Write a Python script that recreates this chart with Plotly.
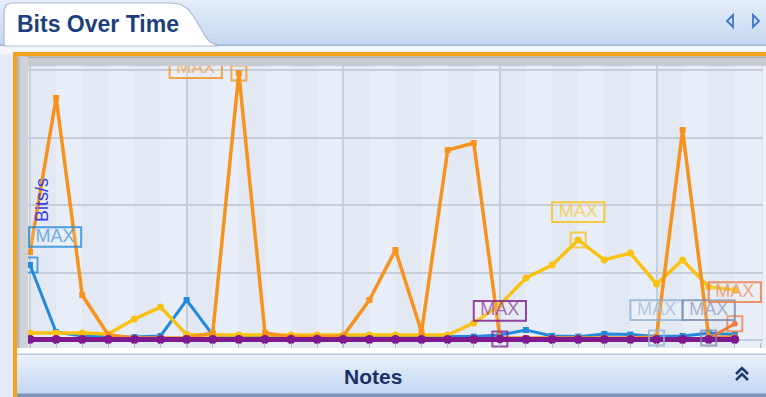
import plotly.graph_objects as go

# ---- data -------------------------------------------------------------
times = ["14:00", "14:05", "14:10", "14:15", "14:20", "14:25", "14:30",
         "14:35", "14:40", "14:45", "14:50", "14:55", "15:00", "15:05",
         "15:10", "15:15", "15:20", "15:25", "15:30", "15:35", "15:40",
         "15:45", "15:50", "15:55", "16:00", "16:05", "16:10", "16:15"]

# throughput per interface (kbit/s)
if_orange = [65.2, 179.3, 33.3, 3.7, 1.5, 1.5, 1.5, 5.2, 197.8, 5.2, 2.2, 2.2,
             3.0, 29.6, 66.7, 5.9, 140.7, 145.9, 1.5, 1.5, 1.5, 1.5, 1.5, 1.5,
             2.2, 155.6, 2.2, 2.0]
if_yellow = [5.2, 5.2, 5.2, 4.4, 15.6, 24.4, 4.0, 3.7, 3.7, 3.7, 3.7, 3.7,
             3.7, 3.7, 3.7, 3.7, 3.7, 12.6, 26.0, 45.9, 55.6, 74.1, 59.3, 64.4,
             41.5, 59.3, 39.3, 37.0]
if_blue = [55.6, 5.9, 3.0, 2.2, 2.2, 3.0, 29.6, 3.7, 2.5, 2.5, 2.5, 2.5,
           2.5, 2.5, 2.5, 2.5, 2.5, 2.5, 3.7, 7.4, 3.0, 2.5, 4.5, 4.0,
           2.5, 3.0, 5.0, 4.0]
if_steel = [0.5, 0.5, 0.5, 0.5, 0.5, 0.5, 0.5, 0.5, 0.5, 0.5, 0.5, 0.5,
            0.5, 0.5, 0.5, 0.5, 0.5, 0.5, 0.5, 0.5, 0.5, 0.5, 0.8, 0.8,
            1.5, 0.8, 0.8, 0.8]
if_slate = [0.3, 0.3, 0.3, 0.3, 0.3, 0.3, 0.3, 0.3, 0.3, 0.3, 0.3, 0.3,
            0.3, 0.3, 0.3, 0.3, 0.3, 0.3, 0.3, 0.3, 0.3, 0.3, 0.3, 0.3,
            0.6, 0.6, 1.5, 1.0]
if_red = [0.2, 0.2, 0.2, 0.2, 0.2, 0.2, 0.2, 0.2, 0.2, 0.2, 0.2, 0.2,
          0.2, 0.2, 0.2, 0.2, 0.2, 0.2, 0.2, 0.2, 0.2, 0.2, 0.2, 0.2,
          0.2, 0.2, 1.0, 12.0]
if_purple = [0.4, 0.4, 0.4, 0.4, 0.4, 0.4, 0.4, 0.4, 0.4, 0.4, 0.4, 0.4,
             0.4, 0.4, 0.4, 0.4, 0.4, 0.4, 0.8, 0.4, 0.4, 0.4, 0.4, 0.4,
             0.4, 0.4, 0.4, 0.4]

series = [
    # name, values, colour, line width, marker symbol, marker size, MAX label dx, dy
    ("eth0", if_blue, "#2389dc", 3, "square", 6, 0.96, 20.7),
    ("eth1", if_yellow, "#f9c112", 3.5, "circle", 7, 0.0, 20.7),
    ("eth2", if_orange, "#f7921c", 3.5, "square", 6, -1.65, 3.6),
    ("eth3", if_steel, "#8fb1d6", 3, "circle", 6, 0.0, 20.7),
    ("eth4", if_slate, "#7889ad", 3, "circle", 6, 0.0, 20.7),
    ("eth5", if_red, "#ef7a43", 3, "circle", 6, 0.0, 23.5),
    ("eth6", if_purple, "#7e1a8e", 5, "circle", 9, 0.0, 20.7),
]

# ---- geometry ---------------------------------------------------------
W, H = 766, 397
L, R, T, B = 28, 763, 66, 348
XMIN, XMAX = -0.077, 28.08
YMIN, YMAX = -5.93, 203.0


def px(x):
    return (x - L) / (R - L)


def py(y):
    return (B - y) / (B - T)


def mix(c0, c1, t):
    a = [int(c0[i:i + 2], 16) for i in (1, 3, 5)]
    b = [int(c1[i:i + 2], 16) for i in (1, 3, 5)]
    return "#%02x%02x%02x" % tuple(round(a[k] + (b[k] - a[k]) * t) for k in range(3))


shapes = []


def rect(x0, y0, x1, y1, fill, line=None, lw=0, layer="below"):
    shapes.append(dict(type="rect", xref="paper", yref="paper",
                       x0=px(x0), x1=px(x1), y0=py(y1), y1=py(y0),
                       fillcolor=fill, layer=layer,
                       line=dict(color=line or fill, width=lw)))


def vgrad(x0, y0, x1, y1, c0, c1, n=12, layer="below"):
    step = (y1 - y0) / n
    for k in range(n):
        rect(x0, y0 + k * step, x1, y0 + (k + 1) * step + 0.6,
             mix(c0, c1, k / (n - 1)), layer=layer)


def path(pts, color, width, fill=None, closed=False, layer="above"):
    d = "M " + " L ".join("%.5f,%.5f" % (px(x), py(y)) for x, y in pts)
    if closed:
        d += " Z"
    shapes.append(dict(type="path", xref="paper", yref="paper", path=d,
                       line=dict(color=color, width=width),
                       fillcolor=fill or "rgba(0,0,0,0)", layer=layer))


# tab strip
vgrad(0, 0, W, 45, "#e4edf9", "#c5d7f0", n=14)
rect(0, 44.5, W, 46, "#9fb4d4")
rect(0, 46, W, 54, "#f3f6fb")
# the open tab
tab = [(4, 46), (4, 10), (6, 5), (11, 3), (170, 3), (180, 4), (188, 9),
       (194, 17), (200, 27), (205, 36), (210, 42), (218, 46)]
path(tab, "#a8bcd8", 1.2, fill="#ffffff", closed=True, layer="below")
# left side panel
rect(0, 54, 13, H, "#e4ecf8")
# orange frame
rect(13, 52, W, 56.5, "#f2a21d")
rect(13, 52, 17, H, "#f2a21d")
# grey inner frame
rect(17, 56.5, W, T, "#c8ccd2")
rect(17, 56.5, W, 58, "#a9adb4")
rect(17, 56.5, L, B, "#cfd2d7")
rect(17, 56.5, 19.5, B, "#b4b8be")
rect(R, T, W, B, "#eef2f8")
# notes bar
rect(17, B, W, 354, "#ffffff")
vgrad(17, 354, W, 394, "#eaf1fb", "#c4d7f1", n=14)
rect(17, 353.5, W, 355, "#b9cbe3")
rect(17, 393.5, W, H, "#7e94ba")

# navigation arrows
path([(733, 15), (727, 21), (733, 27), (733, 15)], "#3d78c9", 1.8, closed=True)
path([(753, 15), (759, 21), (753, 27), (753, 15)], "#3d78c9", 1.8, closed=True)
# collapse chevrons
path([(736, 374), (742, 368), (748, 374)], "#1f3a6e", 2.6)
path([(736, 380), (742, 374), (748, 380)], "#1f3a6e", 2.6)

# alternating column bands inside the plot
for i in range(0, len(times) + 1, 2):
    shapes.append(dict(type="rect", xref="x", yref="y", x0=i, x1=i + 1,
                       y0=YMIN, y1=YMAX, fillcolor="#e2e9f3", layer="below",
                       line=dict(width=0)))

# ---- traces -----------------------------------------------------------
fig = go.Figure()
xs = list(range(len(times)))

for name, vals, col, lw, sym, ms, dx, dy in series:
    fig.add_trace(go.Scatter(x=xs, y=vals, name=name, mode="lines+markers",
                             line=dict(color=col, width=lw),
                             marker=dict(color=col, size=ms, symbol=sym),
                             hovertext=times, showlegend=False))

# MAX markers and labels
for name, vals, col, lw, sym, ms, dx, dy in series:
    imax = max(range(len(vals)), key=lambda k: vals[k])
    vmax = vals[imax]
    fig.add_trace(go.Scatter(x=[imax], y=[vmax], mode="markers",
                             marker=dict(symbol="square-open", size=15,
                                         color=col, line=dict(width=2, color=col)),
                             opacity=0.75, showlegend=False, hoverinfo="skip"))
    lx, ly = imax + dx, vmax + dy
    fig.add_trace(go.Scatter(x=[lx], y=[ly], mode="text", text=["MAX"],
                             textposition="middle center",
                             textfont=dict(family="Liberation Sans", size=18, color=col),
                             opacity=0.75, showlegend=False, hoverinfo="skip"))
    shapes.append(dict(type="rect", xref="x", yref="y",
                       x0=lx - 1.0, x1=lx + 1.0, y0=ly - 7.3, y1=ly + 7.3,
                       fillcolor="rgba(255,255,255,0.18)", opacity=0.8,
                       line=dict(color=col, width=2), layer="above"))

annotations = [
    dict(text="<b>Bits Over Time</b>", xref="paper", yref="paper",
         x=px(15), y=py(24), xanchor="left", yanchor="middle", showarrow=False,
         font=dict(family="Liberation Sans", size=23, color="#1e3f7e")),
    dict(text="<b>Notes</b>", xref="paper", yref="paper",
         x=px(373), y=py(376), xanchor="center", yanchor="middle", showarrow=False,
         font=dict(family="Liberation Sans", size=21, color="#1b2f68")),
    dict(text="Bits/s", xref="paper", yref="paper", textangle=-90,
         x=px(42), y=py(200), xanchor="center", yanchor="middle", showarrow=False,
         font=dict(family="Liberation Sans", size=18, color="#3b3bdc")),
]

fig.update_layout(
    width=W, height=H,
    margin=dict(l=L, r=W - R, t=T, b=H - B, pad=0),
    paper_bgcolor="#ffffff", plot_bgcolor="#e8eef7",
    shapes=shapes, annotations=annotations,
    xaxis=dict(range=[XMIN, XMAX], showticklabels=False, showgrid=True,
               gridcolor="#c6ceda", gridwidth=1.5, tick0=0, dtick=6,
               ticks="inside", ticklen=5, tickcolor="#b3bac6", zeroline=False,
               showline=False,
               minor=dict(dtick=1, ticks="inside", ticklen=5,
                          tickcolor="#b3bac6", showgrid=False)),
    yaxis=dict(range=[YMIN, YMAX], showticklabels=False, showgrid=True,
               gridcolor="#c6ceda", gridwidth=1.5, tick0=0, dtick=50,
               zeroline=True, zerolinecolor="#c6ceda", zerolinewidth=1.5,
               showline=False, ticks=""),
)

fig.write_html("out.html")
